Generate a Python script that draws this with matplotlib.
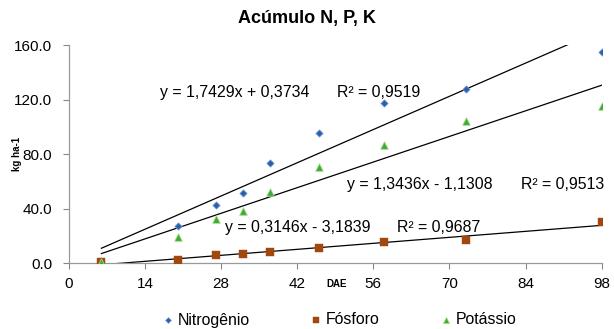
import matplotlib
matplotlib.use("Agg")
import matplotlib.pyplot as plt
import numpy as np

plt.rcParams['font.family'] = ['Liberation Sans', 'DejaVu Sans']

dae = [6, 20, 27, 32, 37, 46, 58, 73, 98]
nitrogenio = [1.5, 27.5, 42.4, 51.2, 73.2, 95.1, 117.6, 127.8, 154.7]
fosforo = [0.5, 2.4, 5.6, 6.3, 8.3, 10.7, 15.1, 16.6, 30.0]
potassio = [1.0, 19.3, 32.2, 38.3, 52.2, 70.2, 86.3, 104.6, 115.2]

trend_n = (1.7429, 0.3734)
trend_p = (0.3146, -3.1839)
trend_k = (1.3436, -1.1308)

eq_n = ("y = 1,7429x + 0,3734", "R² = 0,9519")
eq_k = ("y = 1,3436x - 1,1308", "R² = 0,9513")
eq_p = ("y = 0,3146x - 3,1839", "R² = 0,9687")

xticks = [0, 14, 28, 42, 56, 70, 84, 98]
yticks = [0, 40, 80, 120, 160]

fig = plt.figure(figsize=(6.14, 3.29), dpi=100)
ax = fig.add_axes([0.112, 0.2006, 0.868, 0.6624])

c_n = '#2E5EAA'
c_p = '#A0480E'
c_k = '#3DAA3A'

xs = np.array([dae[0], dae[-1]], dtype=float)
for (m, b) in (trend_n, trend_k, trend_p):
    ax.plot(xs, m * xs + b, color='black', lw=0.9, zorder=2)

ax.scatter(dae, nitrogenio, marker='D', s=14, color=c_n, edgecolors='#7FA3D8', linewidths=0.5, zorder=3, label='Nitrogênio')
ax.scatter(dae, fosforo, marker='s', s=30, color=c_p, edgecolors=c_p, linewidths=0.3, zorder=3, label='Fósforo')
ax.scatter(dae, potassio, marker='^', s=30, color=c_k, edgecolors='#A8DC8A', linewidths=0.6, zorder=3, label='Potássio')

ax.set_xlim(0, 98)
ax.set_ylim(0, 160)
ax.set_xticks(xticks)
ax.set_yticks(yticks)
ax.set_yticklabels([f"{v:.1f}" for v in yticks])
ax.tick_params(axis='both', labelsize=11, colors='#888888', labelcolor='black', length=4, width=0.8)
ax.tick_params(axis='y', pad=8)
ax.tick_params(axis='x', pad=6)

for s in ('top', 'right'):
    ax.spines[s].set_visible(False)
for s in ('left', 'bottom'):
    ax.spines[s].set_color('#999999')
    ax.spines[s].set_linewidth(0.9)

fs_eq = 11.4
ax.text(16.8, 125.5, eq_n[0], fontsize=fs_eq, ha='left', va='center')
ax.text(49.4, 125.5, eq_n[1], fontsize=fs_eq, ha='left', va='center')
ax.text(51.2, 58.0, eq_k[0], fontsize=fs_eq, ha='left', va='center')
ax.text(83.2, 58.0, eq_k[1], fontsize=fs_eq, ha='left', va='center')
ax.text(28.8, 26.4, eq_p[0], fontsize=fs_eq, ha='left', va='center')
ax.text(60.4, 26.4, eq_p[1], fontsize=fs_eq, ha='left', va='center')

fig.text(0.5, 0.945, "Acúmulo N, P, K", fontsize=13, fontweight='bold', ha='center', va='center')
fig.text(0.027, 0.532, "kg ha-1", fontsize=7, fontweight='bold', rotation=90, ha='center', va='center')
ax.text(49.3, -15.5, "DAE", fontsize=7, fontweight='bold', ha='center', va='center')

leg = fig.legend(loc='center left', bbox_to_anchor=(162 / 614, 1 - 320 / 329), ncol=3, frameon=False,
                 fontsize=11.4, handletextpad=0.2, handlelength=0.8, columnspacing=3.8,
                 markerscale=0.8, scatterpoints=1, borderpad=0, borderaxespad=0)

fig.savefig('out.png', dpi=100)
